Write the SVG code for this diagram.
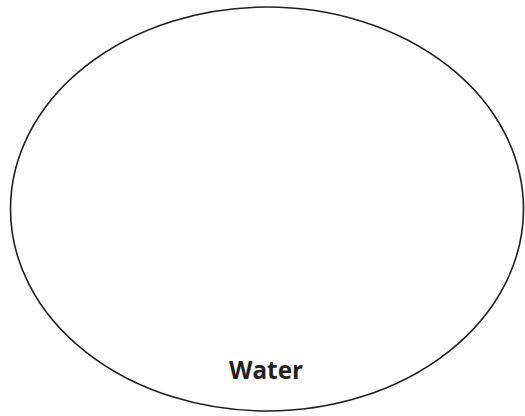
<svg xmlns="http://www.w3.org/2000/svg" width="525" height="416" viewBox="0 0 525 416">
<style>
.outline{fill:none;stroke:#231f20;stroke-width:1.6}
.label{font-family:"Open Sans","Liberation Sans",sans-serif;font-weight:bold;font-size:25px;fill:#231f20}
</style>
<rect width="525" height="416" fill="#ffffff"/>
<g id="water">
<ellipse class="outline" cx="267" cy="209" rx="256.5" ry="202"/>
<text class="label" x="266" y="379" text-anchor="middle" textLength="74" lengthAdjust="spacingAndGlyphs">Water</text>
</g>
</svg>
